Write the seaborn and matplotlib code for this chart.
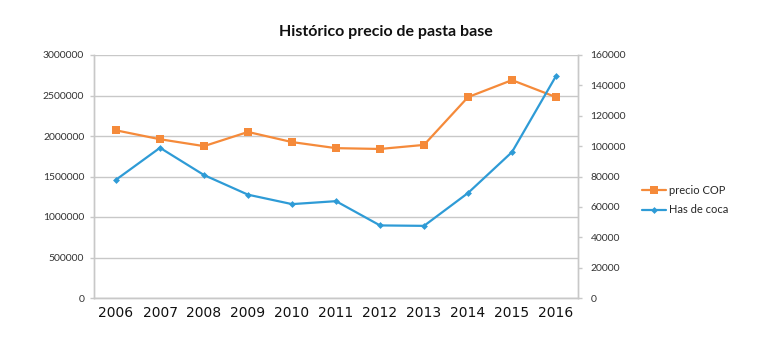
import matplotlib
matplotlib.use("Agg")
import matplotlib.pyplot as plt
import seaborn as sns
import numpy as np
import pandas as pd

years = ["2006", "2007", "2008", "2009", "2010", "2011", "2012", "2013", "2014", "2015", "2016"]
precio_cop = [2070000, 1960000, 1875000, 2050000, 1925000, 1850000, 1840000, 1890000, 2480000, 2690000, 2480000]
has_coca = [77870, 98899, 80953, 68025, 61812, 63762, 47788, 47500, 69132, 96084, 146139]

sns.set_theme(style="white")
plt.rcParams['font.family'] = ['Lato', 'DejaVu Sans']

df = pd.DataFrame({"pos": np.arange(len(years)), "year": years,
                   "precio": precio_cop, "coca": has_coca})

fig = plt.figure(figsize=(7.6, 3.43), dpi=100)
ax = fig.add_axes([94/760, 1-298/343, (578-94)/760, (298-55)/343])
ax2 = ax.twinx()

orange = "#F58A3A"
blue = "#2E9BD6"
grid_c = "#C8C8C8"

sns.lineplot(data=df, x="pos", y="precio", ax=ax, color=orange, marker="s",
             markersize=5.5, markeredgewidth=0, linewidth=1.6, label="precio COP", legend=False)
sns.lineplot(data=df, x="pos", y="coca", ax=ax2, color=blue, marker="D",
             markersize=3.5, markeredgewidth=0, linewidth=1.6, label="Has de coca", legend=False)

ax.set_xlim(-0.5, len(years) - 0.5)
ax.set_ylim(0, 3000000)
ax2.set_ylim(0, 160000)
ax.set_yticks(np.arange(0, 3000001, 500000))
ax2.set_yticks(np.arange(0, 160001, 20000))
ax.set_yticklabels([str(v) for v in np.arange(0, 3000001, 500000)], fontsize=7.5, color="#333333")
ax2.set_yticklabels([str(v) for v in np.arange(0, 160001, 20000)], fontsize=7.5, color="#333333")

ax.set_xticks(np.arange(len(years)))
ax.set_xticklabels(years, fontsize=10, color="#111111", family=['DejaVu Sans'])
ax.set_xticks(np.arange(-0.5, len(years), 1), minor=True)
ax.tick_params(axis="x", which="major", length=0, pad=6)
ax.tick_params(axis="x", which="minor", length=3, color=grid_c, width=1, direction="out")
ax.tick_params(axis="y", length=3, color=grid_c, width=1, pad=4, left=True)
ax2.tick_params(axis="y", length=3, color=grid_c, width=1, pad=6, right=True)

ax.set_xlabel("")
ax.set_ylabel("")
ax2.set_ylabel("")
ax.yaxis.grid(True, color=grid_c, linewidth=1)
ax.set_axisbelow(True)

for a in (ax, ax2):
    a.spines["top"].set_visible(False)
    for s in ("left", "right", "bottom"):
        a.spines[s].set_color(grid_c)
        a.spines[s].set_linewidth(1)

fig.text(386/760, 1-32/343, "Histórico precio de pasta base", ha="center", va="center",
         fontsize=11.5, fontweight="bold", color="#111111")

h1, l1 = ax.get_legend_handles_labels()
h2, l2 = ax2.get_legend_handles_labels()
fig.legend(h1 + h2, l1 + l2, loc="center left", bbox_to_anchor=(632/760, 1-200/343),
           frameon=False, fontsize=8, handlelength=2.2, handletextpad=0.2, labelspacing=0.8)

fig.savefig("out.png", dpi=100)
